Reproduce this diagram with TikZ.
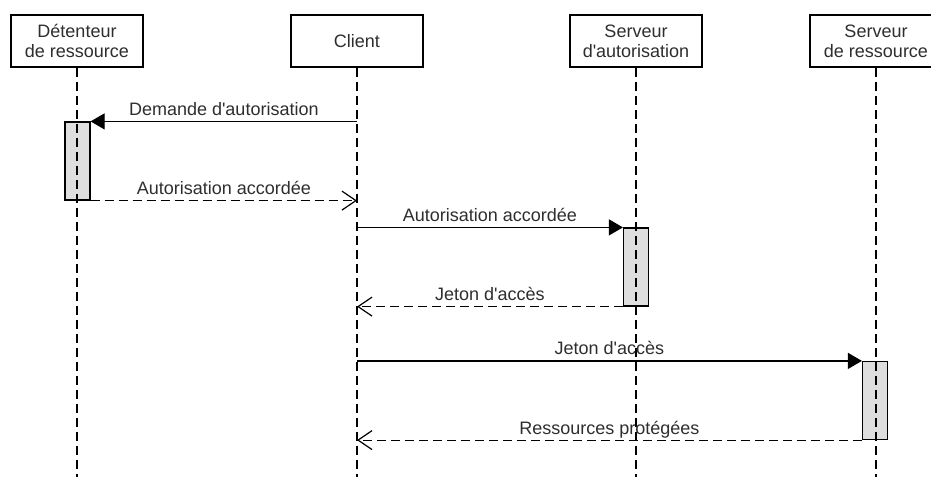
\documentclass[tikz,border=0pt]{standalone}
\usepackage{fontspec}
\newfontfamily\lfont{Liberation Sans}
\usetikzlibrary{arrows.meta}
\definecolor{txt}{HTML}{2E2E2E}
\definecolor{actfill}{HTML}{DEDEDE}
\begin{document}
\begin{tikzpicture}[x=1pt,y=-1pt,
  actor/.style={draw=black, line width=1.2pt, fill=white, minimum width=132pt, minimum height=52pt, inner sep=0pt, align=center, text=txt, font=\lfont\fontsize{18}{20}\selectfont},
  lifeline/.style={line width=1.2pt, dash pattern=on 9pt off 5pt},
  actbox/.style={draw=black, line width=1.2pt, fill=actfill, minimum width=25pt, minimum height=78pt, inner sep=0pt},
  callmsg/.style={line width=1.2pt, -{Triangle[length=14pt,width=16pt]}},
  retmsg/.style={line width=1.2pt, dash pattern=on 9pt off 5pt, -{Straight Barb[length=14pt,width=19pt]}},
  lbl/.style={anchor=base, yshift=6pt, text=txt, font=\lfont\fontsize{18}{20}\selectfont, inner sep=0pt},
]
\clip (0,0) rectangle (931,488);
\useasboundingbox (0,0) rectangle (931,488);

% actors
\node[actor] (b1) at (77,41) {Détenteur\\de ressource};
\node[actor] (b2) at (357,41) {Client};
\node[actor] (b3) at (636,41) {Serveur\\d'autorisation};
\node[actor] (b4) at (876,41) {Serveur\\de ressource};

% lifeline ends
\coordinate (e1) at (77,477);
\coordinate (e2) at (357,477);
\coordinate (e3) at (636,477);
\coordinate (e4) at (876,477);

% activations
\node[actbox] (a1) at (77.5,161) {};
\node[actbox] (a2) at (636,267) {};
\node[actbox] (a3) at (875,400.5) {};

% lifelines (drawn over the activations, as in the reference)
\draw[lifeline] (b1.south) -- (e1);
\draw[lifeline] (b2.south) -- (e2);
\draw[lifeline] (b3.south) -- (e3);
\draw[lifeline] (b4.south) -- (e4);

% messages
\draw[callmsg] (b2 |- a1.north east) -- node[lbl]{Demande d'autorisation} (a1.north east);
\draw[retmsg] (a1.south east) -- node[lbl]{Autorisation accordée} (b2 |- a1.south east);
\draw[callmsg] (b2 |- a2.north west) -- node[lbl]{Autorisation accordée} (a2.north west);
\draw[retmsg] (a2.south west) -- node[lbl]{Jeton d'accès} (b2 |- a2.south west);
\draw[callmsg] (b2 |- a3.north west) -- node[lbl]{Jeton d'accès} (a3.north west);
\draw[retmsg] (a3.south west) -- node[lbl]{Ressources protégées} (b2 |- a3.south west);
\end{tikzpicture}
\end{document}
